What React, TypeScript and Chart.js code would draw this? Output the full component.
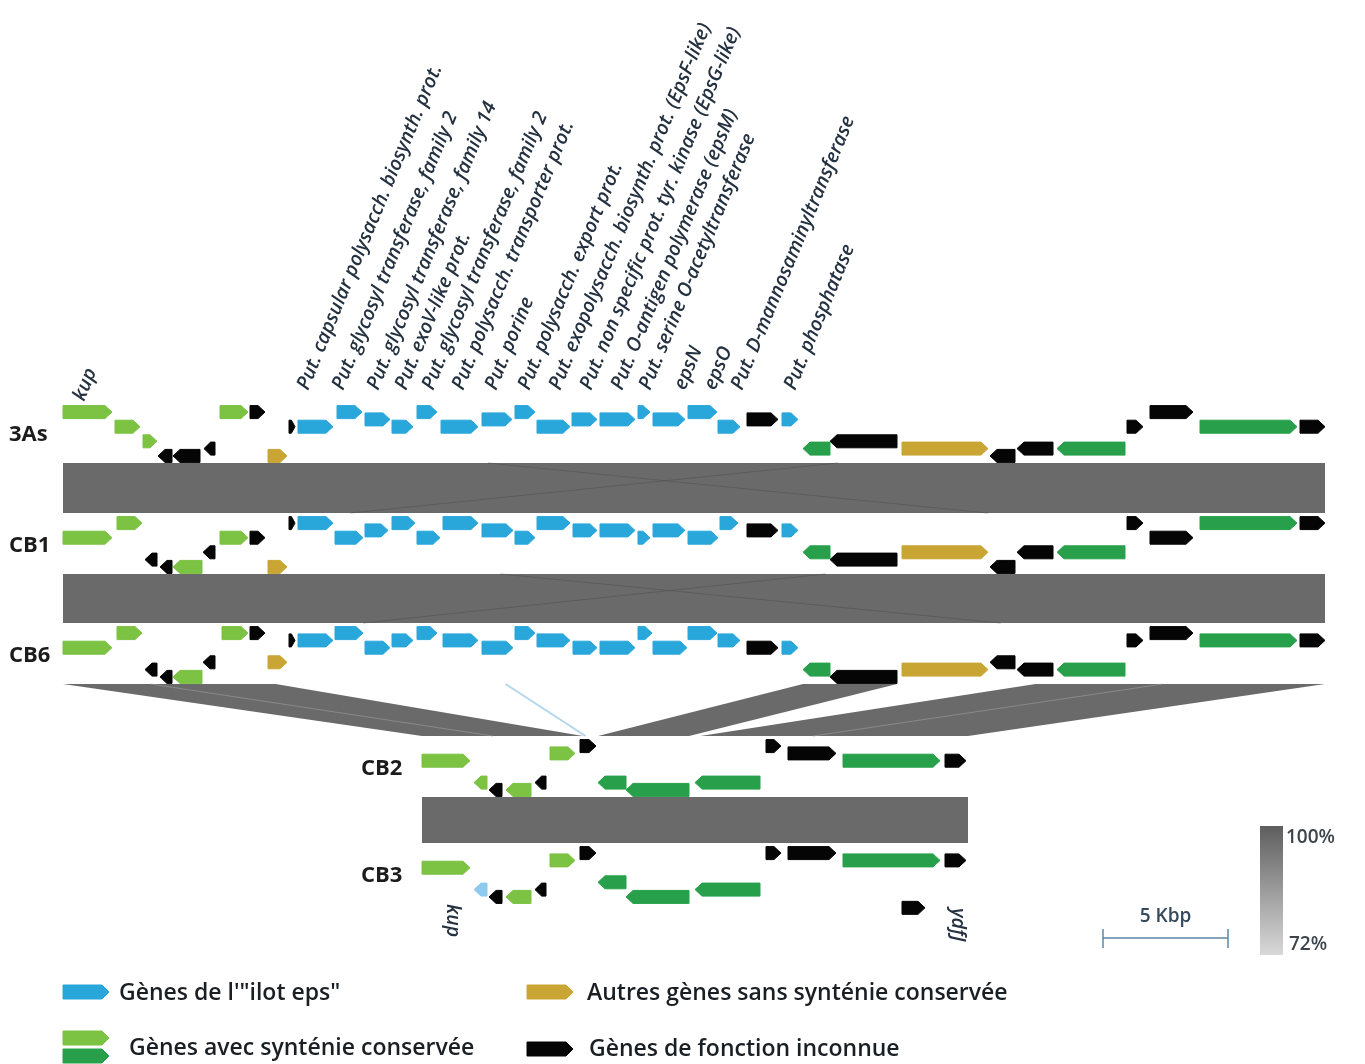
import React, { useEffect, useRef } from "react";
import { Chart, registerables } from "chart.js";

Chart.register(...registerables);

// ---------- DATA ----------
// gene: [start kbp, end kbp, strand (1 fwd / -1 rev), lane (stagger row), category]
type Gene = [number, number, number, number, string];

const genomeNames = ["3As", "CB1", "CB6", "CB2", "CB3"];

const genes3As: Gene[] = [
  [0, 1.96, 1, -3, "syn1"],
  [2.08, 3.08, 1, -1, "syn1"],
  [3.2, 3.76, 1, 1, "syn1"],
  [3.8, 4.36, -1, 3, "unk"],
  [4.4, 5.48, -1, 3, "unk"],
  [5.64, 6.08, -1, 2, "unk"],
  [6.28, 7.4, 1, -3, "syn1"],
  [7.48, 8.08, 1, -3, "unk"],
  [8.2, 8.96, 1, 3, "other"],
  [9.04, 9.28, 1, -1, "unk"],
  [9.4, 10.8, 1, -1, "eps"],
  [10.96, 11.96, 1, -3, "eps"],
  [12.08, 13.08, 1, -2, "eps"],
  [13.16, 14.0, 1, -1, "eps"],
  [14.16, 14.96, 1, -3, "eps"],
  [15.12, 16.6, 1, -1, "eps"],
  [16.76, 17.96, 1, -2, "eps"],
  [18.08, 18.88, 1, -3, "eps"],
  [18.96, 20.28, 1, -1, "eps"],
  [20.36, 21.36, 1, -2, "eps"],
  [21.48, 22.88, 1, -2, "eps"],
  [23.0, 23.48, 1, -3, "eps"],
  [23.6, 24.88, 1, -2, "eps"],
  [25.0, 26.16, 1, -3, "eps"],
  [26.2, 27.08, 1, -1, "eps"],
  [27.36, 28.6, 1, -2, "unk"],
  [28.76, 29.4, 1, -2, "eps"],
  [29.6, 30.68, -1, 2, "syn2"],
  [30.68, 33.36, -1, 1, "unk"],
  [33.56, 37.0, 1, 2, "other"],
  [37.08, 38.08, -1, 3, "unk"],
  [38.16, 39.6, -1, 2, "unk"],
  [39.76, 42.48, -1, 2, "syn2"],
  [42.56, 43.2, 1, -1, "unk"],
  [43.48, 45.2, 1, -3, "unk"],
  [45.48, 49.36, 1, -1, "syn2"],
  [49.48, 50.48, 1, -1, "unk"],
];

const genesCB1: Gene[] = [
  [2.16, 3.16, 1, -3, "syn1"],
  [0, 1.96, 1, -1, "syn1"],
  [3.28, 3.76, -1, 2, "unk"],
  [3.88, 4.36, -1, 3, "unk"],
  [4.4, 5.56, -1, 3, "syn1"],
  [5.6, 6.08, -1, 1, "unk"],
  [6.28, 7.4, 1, -1, "syn1"],
  [7.48, 8.08, 1, -1, "unk"],
  [8.2, 8.96, 1, 3, "other"],
  [9.04, 9.28, 1, -3, "unk"],
  [9.4, 10.8, 1, -3, "eps"],
  [10.88, 12.0, 1, -1, "eps"],
  [12.08, 13.0, 1, -2, "eps"],
  [13.16, 14.08, 1, -3, "eps"],
  [14.16, 15.08, 1, -1, "eps"],
  [15.2, 16.6, 1, -3, "eps"],
  [16.76, 18.0, 1, -2, "eps"],
  [18.08, 18.88, 1, -1, "eps"],
  [18.96, 20.28, 1, -3, "eps"],
  [20.4, 21.36, 1, -2, "eps"],
  [21.48, 22.88, 1, -2, "eps"],
  [23.0, 23.48, 1, -1, "eps"],
  [23.6, 24.88, 1, -2, "eps"],
  [25.0, 26.2, 1, -1, "eps"],
  [26.28, 27.0, 1, -3, "eps"],
  [27.36, 28.6, 1, -2, "unk"],
  [28.76, 29.4, 1, -2, "eps"],
  [29.6, 30.68, -1, 1, "syn2"],
  [30.68, 33.36, -1, 2, "unk"],
  [33.56, 37.0, 1, 1, "other"],
  [37.08, 38.08, -1, 3, "unk"],
  [38.16, 39.6, -1, 1, "unk"],
  [39.76, 42.48, -1, 1, "syn2"],
  [42.56, 43.2, 1, -3, "unk"],
  [43.48, 45.2, 1, -1, "unk"],
  [45.48, 49.36, 1, -3, "syn2"],
  [49.48, 50.48, 1, -3, "unk"],
];

const genesCB6: Gene[] = [
  [2.16, 3.16, 1, -3, "syn1"],
  [0, 1.96, 1, -1, "syn1"],
  [3.28, 3.76, -1, 2, "unk"],
  [3.88, 4.36, -1, 3, "unk"],
  [4.4, 5.56, -1, 3, "syn1"],
  [5.6, 6.08, -1, 1, "unk"],
  [6.36, 7.4, 1, -3, "syn1"],
  [7.48, 8.08, 1, -3, "unk"],
  [8.2, 8.96, 1, 1, "other"],
  [9.04, 9.28, 1, -2, "unk"],
  [9.4, 10.8, 1, -2, "eps"],
  [10.88, 12.0, 1, -3, "eps"],
  [12.08, 13.08, 1, -1, "eps"],
  [13.16, 14.0, 1, -2, "eps"],
  [14.16, 14.96, 1, -3, "eps"],
  [15.2, 16.6, 1, -2, "eps"],
  [16.76, 18.0, 1, -1, "eps"],
  [18.08, 18.88, 1, -3, "eps"],
  [18.96, 20.28, 1, -2, "eps"],
  [20.4, 21.36, 1, -1, "eps"],
  [21.48, 22.88, 1, -1, "eps"],
  [23.0, 23.56, 1, -3, "eps"],
  [23.6, 24.96, 1, -1, "eps"],
  [25.0, 26.16, 1, -3, "eps"],
  [26.2, 27.08, 1, -2, "eps"],
  [27.36, 28.6, 1, -1, "unk"],
  [28.76, 29.4, 1, -1, "eps"],
  [29.6, 30.68, -1, 2, "syn2"],
  [30.68, 33.36, -1, 3, "unk"],
  [33.56, 37.0, 1, 2, "other"],
  [37.08, 38.08, -1, 1, "unk"],
  [38.16, 39.6, -1, 2, "unk"],
  [39.76, 42.48, -1, 2, "syn2"],
  [42.56, 43.2, 1, -2, "unk"],
  [43.48, 45.2, 1, -3, "unk"],
  [45.48, 49.36, 1, -2, "syn2"],
  [49.48, 50.48, 1, -2, "unk"],
];

const genesCB2: Gene[] = [
  [14.36, 16.28, 1, -1, "syn1"],
  [16.44, 16.96, -1, 2, "syn1"],
  [17.04, 17.56, -1, 3, "unk"],
  [17.72, 18.72, -1, 3, "syn1"],
  [18.88, 19.32, -1, 2, "unk"],
  [19.48, 20.48, 1, -2, "syn1"],
  [20.68, 21.32, 1, -3, "unk"],
  [21.4, 22.52, -1, 2, "syn2"],
  [22.52, 25.04, -1, 3, "syn2"],
  [25.28, 27.88, -1, 2, "syn2"],
  [28.12, 28.72, 1, -3, "unk"],
  [29.0, 30.92, 1, -2, "unk"],
  [31.2, 35.08, 1, -1, "syn2"],
  [35.28, 36.12, 1, -1, "unk"],
];

const genesCB3: Gene[] = [
  [14.36, 16.28, 1, -1, "syn1"],
  [16.44, 16.96, -1, 2, "epsLight"],
  [17.04, 17.56, -1, 3, "unk"],
  [17.72, 18.72, -1, 3, "syn1"],
  [18.88, 19.32, -1, 2, "unk"],
  [19.48, 20.48, 1, -2, "syn1"],
  [20.68, 21.32, 1, -3, "unk"],
  [21.4, 22.52, -1, 1, "syn2"],
  [22.52, 25.04, -1, 3, "syn2"],
  [25.28, 27.88, -1, 2, "syn2"],
  [28.12, 28.72, 1, -3, "unk"],
  [29.0, 30.92, 1, -3, "unk"],
  [31.2, 35.08, 1, -2, "syn2"],
  [35.28, 36.12, 1, -2, "unk"],
  [33.56, 34.48, 1, 4.5, "unk"],
];

const genesByGenome: Gene[][] = [genes3As, genesCB1, genesCB6, genesCB2, genesCB3];

// eps island annotations (x = kbp where the label starts)
const epsLabels = [
  "Put. capsular polysacch. biosynth. prot.",
  "Put. glycosyl transferase, family 2",
  "Put. glycosyl transferase, family 14",
  "Put. exoV-like prot.",
  "Put. glycosyl transferase, family 2",
  "Put. polysacch. transporter prot.",
  "Put. porine",
  "Put. polysacch. export prot.",
  "Put. exopolysacch. biosynth. prot. (EpsF-like)",
  "Put. non specific prot. tyr. kinase (EpsG-like)",
  "Put. O-antigen polymerase (epsM)",
  "Put. serine O-acetyltransferase",
  "epsN",
  "epsO",
  "Put. D-mannosaminyltransferase",
  "Put. phosphatase",
];
const epsLabelX = [9.8, 11.2, 12.6, 13.72, 14.8, 16.0, 17.32, 18.64, 19.88, 21.12, 22.36, 23.48, 24.88, 26.08, 27.16, 29.28];

// flanking gene names
const flankLabels = ["kup", "kup", "ydfJ"];
const flankLabelX = [0.84, 15.36, 35.56];

// synteny blocks: [top genome, bottom genome, top start, top end, bottom start, bottom end] (kbp)
const syntenyBlocks: number[][] = [
  [0, 1, 0, 50.48, 0, 50.48],
  [1, 2, 0, 50.48, 0, 50.48],
  [2, 3, 0, 8.5, 14.36, 20.8],
  [2, 3, 29.6, 33.36, 21.4, 25.04],
  [2, 3, 38.9, 50.48, 25.5, 36.2],
  [3, 4, 14.36, 36.2, 14.36, 36.2],
];

// inverted / low-identity links inside blocks: [top genome, bottom genome, top x, bottom x]
const invertedLinks: number[][] = [
  [0, 1, 17.0, 37.0],
  [0, 1, 31.0, 11.5],
  [1, 2, 17.5, 37.5],
  [1, 2, 30.5, 12.0],
  [2, 3, 3.5, 17.2],
  [2, 3, 44.0, 30.0],
];
const weakLinks: number[][] = [[2, 3, 17.7, 20.9]];

const legendLabels = [
  "Gènes de l'\"ilot eps\"",
  "Autres gènes sans synténie conservée",
  "Gènes avec synténie conservée",
  "Gènes de fonction inconnue",
];
const legendCategories = [["eps"], ["other"], ["syn1", "syn2"], ["unk"]];

const scaleBarStart = 41.6;
const scaleBarLength = 5;
const scaleBarLabel = "5 Kbp";
const identityLabels = ["100%", "72%"];

// ---------- LAYOUT / STYLE ----------
const X_MIN = -2.52;
const X_MAX = 52.08;
const W = 1365;
const H = 1064;
const TRACK_Y = [434, 545, 655, 768, 875];
const TRACK_LABEL_X = [9, 9, 9, 361, 361];
const LANE_STEP = 7.3;
const GENE_H = 13;
const BAND_TOP_GAP = 29;
const BAND_BOTTOM_GAP = 32;
const BAND_COLOR = "#6a6a6a";
const COLORS: Record<string, string> = {
  eps: "#2aa7da",
  syn1: "#7cc243",
  syn2: "#28a04b",
  other: "#c9a634",
  unk: "#050505",
  epsLight: "#8fc9ee",
};
const LABEL_ANGLE = (-67.5 * Math.PI) / 180;
const LABEL_Y = 391;
const FLANK_POS = [
  { y: 402, rot: LABEL_ANGLE },
  { y: 904, rot: Math.PI / 2 },
  { y: 908, rot: Math.PI / 2 },
];
const TEXT_COLOR = "#243140";

function geneShape(ctx: CanvasRenderingContext2D, x1: number, x2: number, yc: number, h: number, strand: number) {
  const w = x2 - x1;
  const head = Math.min(7, w * 0.6);
  ctx.beginPath();
  if (strand > 0) {
    ctx.moveTo(x1, yc - h / 2);
    ctx.lineTo(x2 - head, yc - h / 2);
    ctx.lineTo(x2, yc);
    ctx.lineTo(x2 - head, yc + h / 2);
    ctx.lineTo(x1, yc + h / 2);
  } else {
    ctx.moveTo(x2, yc - h / 2);
    ctx.lineTo(x1 + head, yc - h / 2);
    ctx.lineTo(x1, yc);
    ctx.lineTo(x1 + head, yc + h / 2);
    ctx.lineTo(x2, yc + h / 2);
  }
  ctx.closePath();
}

const genomePlugin = {
  id: "genomeMap",
  afterDraw(chart: any) {
    const ctx: CanvasRenderingContext2D = chart.ctx;
    const xs = chart.scales.x;
    const ys = chart.scales.y;
    const px = (v: number) => xs.getPixelForValue(v);
    const py = (v: number) => ys.getPixelForValue(v);
    ctx.save();

    // synteny bands
    syntenyBlocks.forEach(([t, b, ts, te, bs, be]) => {
      const yt = py(TRACK_Y[t] + BAND_TOP_GAP);
      const yb = py(TRACK_Y[b] - BAND_BOTTOM_GAP);
      ctx.beginPath();
      ctx.moveTo(px(ts), yt);
      ctx.lineTo(px(te), yt);
      ctx.lineTo(px(be), yb);
      ctx.lineTo(px(bs), yb);
      ctx.closePath();
      ctx.fillStyle = BAND_COLOR;
      ctx.fill();
    });
    ctx.lineWidth = 1;
    invertedLinks.forEach(([t, b, xt, xb]) => {
      const yt = py(TRACK_Y[t] + BAND_TOP_GAP);
      const yb = py(TRACK_Y[b] - BAND_BOTTOM_GAP);
      ctx.strokeStyle = t === 2 ? "rgba(150,150,150,0.7)" : "rgba(80,80,80,0.55)";
      ctx.beginPath();
      ctx.moveTo(px(xt), yt);
      ctx.lineTo(px(xb), yb);
      ctx.stroke();
    });
    weakLinks.forEach(([t, b, xt, xb]) => {
      ctx.strokeStyle = "rgba(170,210,235,0.9)";
      ctx.lineWidth = 2;
      ctx.beginPath();
      ctx.moveTo(px(xt), py(TRACK_Y[t] + BAND_TOP_GAP));
      ctx.lineTo(px(xb), py(TRACK_Y[b] - BAND_BOTTOM_GAP));
      ctx.stroke();
    });

    // genes
    ctx.lineJoin = "round";
    genesByGenome.forEach((genes, gi) => {
      genes.forEach(([s, e, strand, lane, cat]) => {
        const yc = py(TRACK_Y[gi] + lane * LANE_STEP);
        geneShape(ctx, px(s), px(e), yc, GENE_H, strand);
        ctx.fillStyle = COLORS[cat];
        ctx.strokeStyle = COLORS[cat];
        ctx.lineWidth = 1;
        ctx.fill();
        ctx.stroke();
      });
    });

    // genome labels
    ctx.fillStyle = "#1c1c1c";
    ctx.font = "bold 22px 'Open Sans', 'DejaVu Sans', sans-serif";
    ctx.textBaseline = "middle";
    ctx.textAlign = "left";
    genomeNames.forEach((n, i) => ctx.fillText(n, TRACK_LABEL_X[i], py(TRACK_Y[i]) + 1));

    // eps labels
    ctx.fillStyle = TEXT_COLOR;
    ctx.font = "italic 600 19.5px 'Open Sans', sans-serif";
    ctx.textBaseline = "alphabetic";
    epsLabels.forEach((t, i) => {
      ctx.save();
      ctx.translate(px(epsLabelX[i]), py(LABEL_Y));
      ctx.rotate(LABEL_ANGLE);
      ctx.fillText(t, 0, 0);
      ctx.restore();
    });
    flankLabels.forEach((t, i) => {
      ctx.save();
      ctx.translate(px(flankLabelX[i]), py(FLANK_POS[i].y));
      ctx.rotate(FLANK_POS[i].rot);
      ctx.fillText(t, 0, 0);
      ctx.restore();
    });

    // scale bar ticks + label
    const sb0 = px(scaleBarStart);
    const sb1 = px(scaleBarStart + scaleBarLength);
    ctx.strokeStyle = "#5b87a8";
    ctx.lineWidth = 1.5;
    [sb0, sb1].forEach((x) => {
      ctx.beginPath();
      ctx.moveTo(x, 929);
      ctx.lineTo(x, 948);
      ctx.stroke();
    });
    ctx.fillStyle = "#34495e";
    ctx.font = "600 19px 'Open Sans', sans-serif";
    ctx.textAlign = "center";
    ctx.textBaseline = "middle";
    ctx.fillText(scaleBarLabel, (sb0 + sb1) / 2, 917);

    // identity gradient
    const g = ctx.createLinearGradient(0, 826, 0, 955);
    g.addColorStop(0, "#5e5e5e");
    g.addColorStop(1, "#d9d9d9");
    ctx.fillStyle = g;
    ctx.fillRect(1260, 826, 23, 129);
    ctx.fillStyle = "#3d444c";
    ctx.textAlign = "left";
    ctx.fillText(identityLabels[0], 1286, 838);
    ctx.fillText(identityLabels[1], 1289, 945);

    // legend
    const legendPos = [
      { x: 63, y: 992, tx: 119, ty: 993 },
      { x: 527, y: 992, tx: 587, ty: 993 },
      { x: 63, y: 1038, tx: 129, ty: 1048 },
      { x: 527, y: 1049, tx: 589, ty: 1049 },
    ];
    ctx.font = "600 23px 'Open Sans', sans-serif";
    legendLabels.forEach((lab, i) => {
      const p = legendPos[i];
      legendCategories[i].forEach((cat, k) => {
        geneShape(ctx, p.x, p.x + 46, p.y + k * 18, 14, 1);
        ctx.fillStyle = COLORS[cat];
        ctx.strokeStyle = COLORS[cat];
        ctx.lineWidth = 1;
        ctx.fill();
        ctx.stroke();
      });
      ctx.fillStyle = "#1a1f24";
      ctx.textBaseline = "middle";
      ctx.fillText(lab, p.tx, p.ty);
    });

    ctx.restore();
  },
};

export default function App() {
  const ref = useRef<HTMLCanvasElement>(null);
  useEffect(() => {
    const canvas = ref.current;
    if (!canvas) return;
    const chart = new Chart(canvas, {
      type: "scatter",
      data: {
        datasets: [
          {
            data: [
              { x: scaleBarStart, y: 938 },
              { x: scaleBarStart + scaleBarLength, y: 938 },
            ],
            showLine: true,
            borderColor: "#5b87a8",
            borderWidth: 1.5,
            pointRadius: 0,
          },
        ],
      },
      options: {
        responsive: false,
        animation: false,
        devicePixelRatio: 1,
        events: [],
        layout: { padding: 0 },
        plugins: { legend: { display: false }, tooltip: { enabled: false } },
        scales: {
          x: { type: "linear", min: X_MIN, max: X_MAX, display: false },
          y: { type: "linear", min: 0, max: H, reverse: true, display: false },
        },
      },
      plugins: [genomePlugin],
    });
    return () => chart.destroy();
  }, []);
  return (
    <div style={{ position: "absolute", left: 0, top: 0, width: W, height: H, background: "#fff" }}>
      <canvas ref={ref} width={W} height={H} style={{ display: "block" }} />
    </div>
  );
}
